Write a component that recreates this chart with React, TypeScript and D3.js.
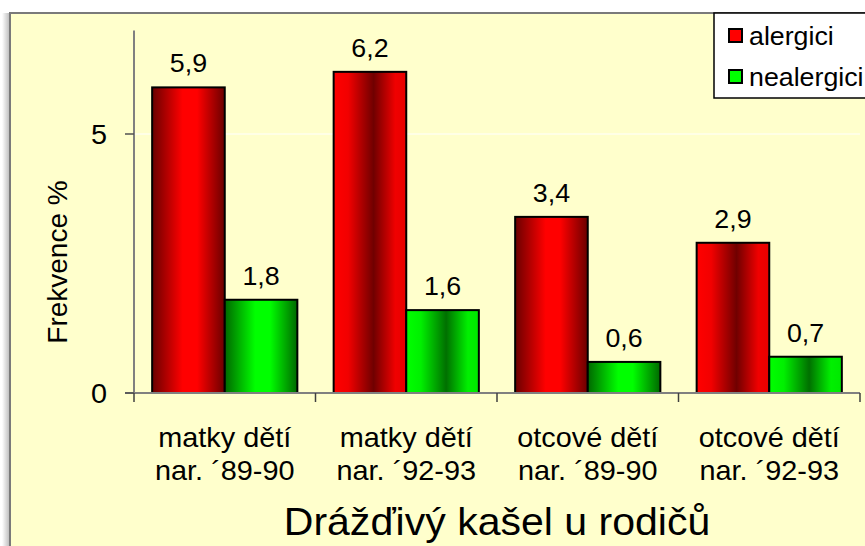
import * as d3 from "d3";

const categories = [
  ["matky dětí", "nar. ´89-90"],
  ["matky dětí", "nar. ´92-93"],
  ["otcové dětí", "nar. ´89-90"],
  ["otcové dětí", "nar. ´92-93"],
];
const seriesNames = ["alergici", "nealergici"];
const alergici = [5.9, 6.2, 3.4, 2.9];
const nealergici = [1.8, 1.6, 0.6, 0.7];
const yTicks = [0, 5];
const yTitle = "Frekvence %";
const xTitle = "Drážďivý kašel u rodičů";

const W = 865;
const H = 546;
const margin = { left: 134, right: 5, top: 30.4, bottom: 153 };
const font = "'Liberation Sans', Arial, sans-serif";
const sx = 1.03;

export default function App() {
  const values = [alergici, nealergici];
  const keys = categories.map((c) => c.join(" "));

  const x0 = d3
    .scaleBand<string>()
    .domain(keys)
    .range([margin.left, W - margin.right]);
  const bw = x0.bandwidth();
  const x1 = d3
    .scaleBand<string>()
    .domain(seriesNames)
    .range([bw * 0.1, bw * 0.9]);
  const y = d3
    .scaleLinear()
    .domain([0, 7])
    .range([H - margin.bottom, margin.top]);

  const y0 = y(0);
  const fmt = (v: number) => v.toFixed(1).replace(".", ",");
  // bars 1 and 3 are lit in the middle, bars 2 and 4 are dark in the middle
  const grad = (si: number, ci: number) =>
    `url(#${si === 0 ? "red" : "green"}-${ci % 2 === 0 ? "lit" : "dark"})`;

  return (
    <svg
      width={W}
      height={H}
      style={{ position: "absolute", left: 0, top: 0, background: "#fff" }}
      fontFamily={font}
    >
      <defs>
        <linearGradient id="shadow" x1="0" x2="1" y1="0" y2="0">
          <stop offset="0" stopColor="#ffffff" />
          <stop offset="1" stopColor="#b8b8b8" />
        </linearGradient>
        <linearGradient id="red-lit" x1="0" x2="1" y1="0" y2="0">
          <stop offset="0" stopColor="#6a0000" />
          <stop offset="0.42" stopColor="#ff0000" />
          <stop offset="0.62" stopColor="#ff0000" />
          <stop offset="1" stopColor="#6a0000" />
        </linearGradient>
        <linearGradient id="red-dark" x1="0" x2="1" y1="0" y2="0">
          <stop offset="0" stopColor="#ff0000" />
          <stop offset="0.2" stopColor="#f20000" />
          <stop offset="0.55" stopColor="#700000" />
          <stop offset="0.85" stopColor="#f00000" />
          <stop offset="1" stopColor="#e80000" />
        </linearGradient>
        <linearGradient id="green-lit" x1="0" x2="1" y1="0" y2="0">
          <stop offset="0" stopColor="#006800" />
          <stop offset="0.42" stopColor="#00ff00" />
          <stop offset="0.62" stopColor="#00ff00" />
          <stop offset="1" stopColor="#006800" />
        </linearGradient>
        <linearGradient id="green-dark" x1="0" x2="1" y1="0" y2="0">
          <stop offset="0" stopColor="#00ff00" />
          <stop offset="0.2" stopColor="#00f000" />
          <stop offset="0.55" stopColor="#007000" />
          <stop offset="0.85" stopColor="#00f000" />
          <stop offset="1" stopColor="#00e800" />
        </linearGradient>
      </defs>

      {/* Frame */}
      <rect x={2} y={13} width={8} height={H} fill="url(#shadow)" />
      <rect
        x={10}
        y={13}
        width={W + 20}
        height={H + 20}
        fill="#ffffcc"
        stroke="#7a7a7a"
        strokeWidth={2}
      />

      {/* Gridline */}
      {yTicks
        .filter((t) => t > 0)
        .map((t) => (
          <line
            key={t}
            x1={margin.left}
            x2={W - margin.right}
            y1={y(t)}
            y2={y(t)}
            stroke="#ffffff"
            strokeWidth={1}
          />
        ))}

      {/* Bars */}
      {keys.map((k, ci) =>
        seriesNames.map((s, si) => {
          const v = values[si][ci];
          const bx = (x0(k) ?? 0) + (x1(s) ?? 0);
          return (
            <g key={k + s}>
              <rect
                x={bx}
                y={y(v)}
                width={x1.bandwidth()}
                height={y0 - y(v)}
                fill={grad(si, ci)}
                stroke="#000"
                strokeWidth={2}
              />
              <text
                transform={`translate(${bx + x1.bandwidth() / 2},${y(v) - 15}) scale(${sx},1)`}
                textAnchor="middle"
                fontSize={26}
                fill="#000"
              >
                {fmt(v)}
              </text>
            </g>
          );
        }),
      )}

      {/* Axes */}
      <line x1={margin.left} x2={margin.left} y1={margin.top} y2={y0} stroke="#808080" strokeWidth={2} />
      <line x1={margin.left - 9} x2={W - margin.right} y1={y0} y2={y0} stroke="#808080" strokeWidth={2} />
      {yTicks.map((t) => (
        <g key={t}>
          <line x1={margin.left - 9} x2={margin.left} y1={y(t)} y2={y(t)} stroke="#505050" strokeWidth={1.5} />
          <text
            transform={`translate(${margin.left - 27},${y(t) + 10}) scale(${sx},1)`}
            textAnchor="end"
            fontSize={28}
          >
            {t}
          </text>
        </g>
      ))}
      {[...keys.map((k) => x0(k) ?? 0), W - margin.right].map((tx, i) => (
        <line key={i} x1={tx} x2={tx} y1={y0} y2={y0 + 9} stroke="#404040" strokeWidth={1.5} />
      ))}
      {categories.map((c, ci) => (
        <g key={ci}>
          {c.map((line, li) => (
            <text
              key={li}
              transform={`translate(${(x0(keys[ci]) ?? 0) + bw / 2},${447 + li * 33}) scale(${sx},1)`}
              textAnchor="middle"
              fontSize={28}
            >
              {line}
            </text>
          ))}
        </g>
      ))}

      {/* Axis titles */}
      <text
        transform={`translate(${(margin.left + W - margin.right) / 2},535) scale(1.08,1)`}
        textAnchor="middle"
        fontSize={38}
      >
        {xTitle}
      </text>
      <text
        transform={`translate(67,262) rotate(-90)`}
        textAnchor="middle"
        fontSize={28}
      >
        {yTitle}
      </text>

      {/* Legend */}
      <rect x={714} y={13} width={200} height={85} fill="#ffffff" stroke="#000" strokeWidth={1.5} />
      {seriesNames.map((s, si) => (
        <g key={s}>
          <rect
            x={729}
            y={29 + si * 41}
            width={13}
            height={13}
            fill={si === 0 ? "#ff0000" : "#00ff00"}
            stroke="#000"
            strokeWidth={2}
          />
          <text
            transform={`translate(749,${45 + si * 41}) scale(${sx},1)`}
            fontSize={26}
          >
            {s}
          </text>
        </g>
      ))}
    </svg>
  );
}
